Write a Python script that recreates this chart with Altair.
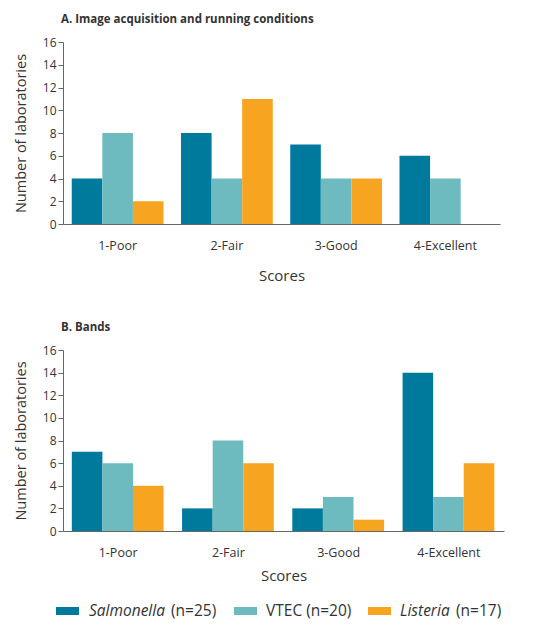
import altair as alt
import pandas as pd

scores = ["1-Poor", "2-Fair", "3-Good", "4-Excellent"]
series = ["Salmonella", "VTEC", "Listeria"]
series_n = [25, 20, 17]
series_italic = [True, False, True]
colors = ["#007A9C", "#6DBBBE", "#F7A520"]

a_salmonella = [4, 8, 7, 6]
a_vtec = [8, 4, 4, 4]
a_listeria = [2, 11, 4, 0]

b_salmonella = [7, 2, 2, 14]
b_vtec = [6, 8, 3, 3]
b_listeria = [4, 6, 1, 6]

FONT = "Open Sans"
TXT = "#333333"
AX = "#666666"


def make_df(vals):
    rows = []
    for s, v in zip(series, vals):
        for sc, c in zip(scores, v):
            rows.append({"Score": sc, "Series": s, "Count": c})
    return pd.DataFrame(rows)


def bars(vals, title_pad):
    df = make_df(vals)
    return alt.Chart(df).mark_bar().encode(
        x=alt.X("Score:N", sort=scores,
                scale=alt.Scale(paddingInner=0.16, paddingOuter=0.08),
                axis=alt.Axis(title="Scores", labelAngle=0, ticks=False,
                              labelPadding=15, titlePadding=title_pad,
                              domainColor=AX, labelColor=TXT, titleColor=TXT,
                              labelFontSize=12.5, titleFontSize=15,
                              titleFontWeight="normal", labelFont=FONT,
                              titleFont=FONT)),
        xOffset=alt.XOffset("Series:N", sort=series),
        y=alt.Y("Count:Q", scale=alt.Scale(domain=[0, 16], nice=False),
                axis=alt.Axis(title="Number of laboratories", values=list(range(0, 17, 2)),
                              grid=False, tickSize=5, tickColor=AX, domainColor=AX,
                              labelPadding=2, titlePadding=14,
                              labelColor=TXT, titleColor=TXT, labelFontSize=12,
                              titleFontSize=14.5, titleFontWeight="normal",
                              labelFont=FONT, titleFont=FONT)),
        color=alt.Color("Series:N", scale=alt.Scale(domain=series, range=colors), legend=None),
    )


def title_params(text):
    return alt.TitleParams(text, anchor="start", frame="group", fontSize=11.5,
                           fontWeight="bold", font=FONT, color=TXT, offset=11, dx=-2)


chart_a = bars([a_salmonella, a_vtec, a_listeria], 17).properties(
    width=437, height=182, title=title_params("A. Image acquisition and running conditions"))

# custom legend (partly italic labels), drawn below panel B; x relative to plot left edge
LEG_Y = 261
rect_x = [-7, 171, 305]
name_x = [26, 203, 337]
count_x = [108, None, 393]
leg_df = pd.DataFrame({"Series": series, "n": series_n})
layers = [bars([b_salmonella, b_vtec, b_listeria], 10)]
for i, s in enumerate(series):
    d = leg_df[leg_df["Series"] == s]
    layers.append(alt.Chart(d).mark_rect().encode(
        x=alt.value(rect_x[i]), x2=alt.value(rect_x[i] + 23),
        y=alt.value(LEG_Y - 4), y2=alt.value(LEG_Y + 4),
        color=alt.Color("Series:N", scale=alt.Scale(domain=series, range=colors), legend=None)))
    if series_italic[i]:
        layers.append(alt.Chart(d).mark_text(
            align="left", baseline="middle", font=FONT, fontSize=15.5, fontStyle="italic", color=TXT
        ).encode(x=alt.value(name_x[i]), y=alt.value(LEG_Y), text="Series:N"))
        layers.append(alt.Chart(d).transform_calculate(
            lab="'(n=' + datum.n + ')'"
        ).mark_text(
            align="left", baseline="middle", font=FONT, fontSize=15.5, color=TXT
        ).encode(x=alt.value(count_x[i]), y=alt.value(LEG_Y), text="lab:N"))
    else:
        layers.append(alt.Chart(d).transform_calculate(
            lab="datum.Series + ' (n=' + datum.n + ')'"
        ).mark_text(
            align="left", baseline="middle", font=FONT, fontSize=15.5, color=TXT
        ).encode(x=alt.value(name_x[i]), y=alt.value(LEG_Y), text="lab:N"))

chart_b = alt.layer(*layers).properties(
    width=441, height=181, title=title_params("B. Bands"))

chart = alt.vconcat(chart_a, chart_b, spacing=37).properties(padding=5).configure_view(stroke=None)

chart.save("out.html", embed_options={"renderer": "svg", "actions": False})
